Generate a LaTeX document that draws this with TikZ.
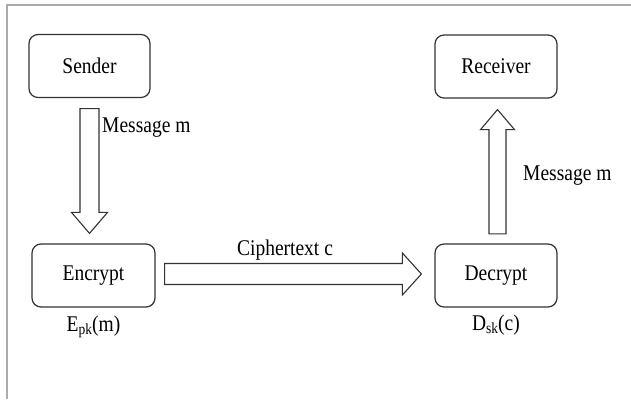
\documentclass[tikz,border=0pt]{standalone}
\usepackage{fontspec}
\setmainfont{Liberation Serif}
\usetikzlibrary{calc}
% slightly tall lettering
\newcommand{\tall}[1]{\scalebox{1}[1.15]{#1}}
\newcommand{\sub}[1]{\raisebox{-2.5pt}{\fontsize{13.5}{14}\selectfont #1}}

\begin{document}
\begin{tikzpicture}[x=1pt,y=-1pt,
  box/.style={draw=black!80, line width=1.2pt, rounded corners=9pt, fill=white,
    minimum height=63pt, inner sep=0pt, font=\fontsize{19.5}{23}\selectfont},
  lbl/.style={inner sep=0pt, font=\fontsize{19.5}{23}\selectfont},
  blockarrow/.style={draw=black!80, line width=1.1pt, line join=miter, fill=white},
  frameline/.style={draw=black!33, line width=2pt}]
\useasboundingbox (0,0) rectangle (631,399);

% outer frame (top and left edges)
\draw[frameline] (631,5) -- (7,5) -- (7,399);

% boxes
\node[box, minimum width=121pt] (sender)   at (89.5,66)    {\tall{Sender}};
\node[box, minimum width=123pt] (encrypt)  at (93.5,275.5) {\tall{Encrypt}};
\node[box, minimum width=122pt] (decrypt)  at (496,275.5)  {\tall{Decrypt}};
\node[box, minimum width=122pt] (receiver) at (496,66.5)   {\tall{Receiver}};

% Sender -> Encrypt
\coordinate (dTop) at ($(sender.south)+(0,10.5)$);
\coordinate (dTip) at ($(sender.south |- encrypt.north)+(0,-10)$);
\draw[blockarrow] ($(dTop)+(-9.5,0)$) -- ($(dTop)+(9.5,0)$) -- ($(dTip)+(9.5,-21)$)
  -- ($(dTip)+(18,-21)$) -- (dTip) -- ($(dTip)+(-18,-21)$) -- ($(dTip)+(-9.5,-21)$) -- cycle;

% Encrypt -> Decrypt
\coordinate (rTail) at ($(encrypt.east)+(9,-1.5)$);
\coordinate (rTip) at ($(decrypt.west)+(-13,-1.5)$);
\draw[blockarrow] ($(rTail)+(0,-10.5)$) -- ($(rTip)+(-19,-10.5)$) -- ($(rTip)+(-19,-21)$)
  -- (rTip) -- ($(rTip)+(-19,21)$) -- ($(rTip)+(-19,10.5)$) -- ($(rTail)+(0,10.5)$) -- cycle;

% Decrypt -> Receiver
\coordinate (uTail) at ($(decrypt.north)+(1.5,-9.5)$);
\coordinate (uTip) at ($(receiver.south)+(1.5,11)$);
\draw[blockarrow] ($(uTail)+(-8.5,0)$) -- ($(uTip)+(-8.5,20)$) -- ($(uTip)+(-17,20)$)
  -- (uTip) -- ($(uTip)+(17,20)$) -- ($(uTip)+(8.5,20)$) -- ($(uTail)+(8.5,0)$) -- cycle;

% labels
\node[lbl, anchor=base west] (msg1) at (102,132) {\tall{Message m}};
\node[lbl, anchor=base west] (msg2) at (523,180) {\tall{Message m}};
\node[lbl, anchor=base] (ctext) at (285,255.5) {\tall{Ciphertext c}};
\node[lbl, anchor=base] (enc) at ($(encrypt.south |- 0,331.5)$) {\tall{E\sub{pk}(m)}};
\node[lbl, anchor=base] (dec) at ($(decrypt.south |- 0,330.5)$) {\tall{D\sub{sk}(c)}};
\end{tikzpicture}
\end{document}
